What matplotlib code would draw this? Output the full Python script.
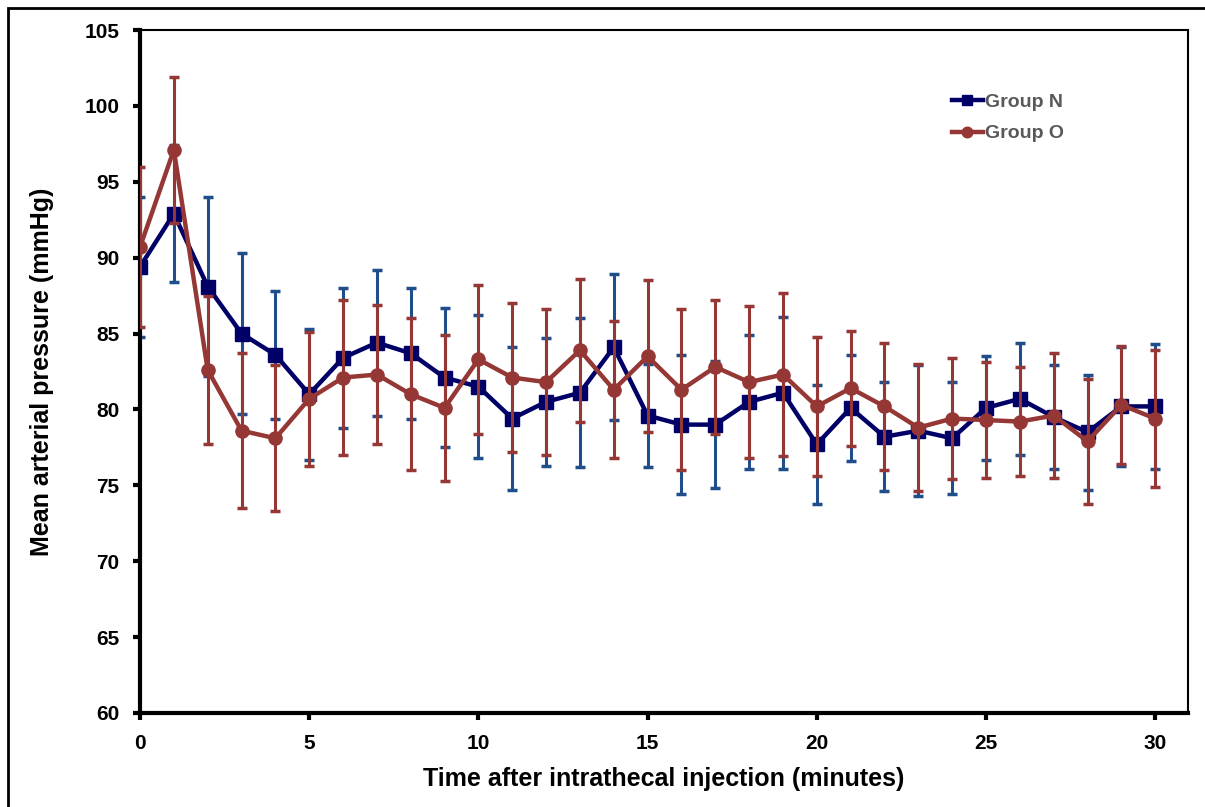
import matplotlib
matplotlib.use("Agg")
import matplotlib.pyplot as plt
from matplotlib.patches import Rectangle

plt.rcParams["font.family"] = ["Liberation Sans", "DejaVu Sans"]
plt.rcParams["font.weight"] = "bold"

# Time points (minutes)
minutes = list(range(31))

# Group N mean arterial pressure and error (mmHg)
group_n = [89.4, 92.9, 88.1, 85.0, 83.6, 81.0, 83.4, 84.4, 83.7, 82.1,
           81.5, 79.4, 80.5, 81.1, 84.1, 79.6, 79.0, 79.0, 80.5, 81.1,
           77.7, 80.1, 78.2, 78.6, 78.1, 80.1, 80.7, 79.5, 78.5, 80.2, 80.2]
group_n_err = [4.6, 4.5, 5.9, 5.3, 4.2, 4.3, 4.6, 4.8, 4.3, 4.6,
               4.7, 4.7, 4.2, 4.9, 4.8, 3.4, 4.6, 4.2, 4.4, 5.0,
               3.9, 3.5, 3.6, 4.3, 3.7, 3.4, 3.7, 3.4, 3.8, 3.9, 4.1]

# Group O mean arterial pressure and error (mmHg)
group_o = [90.7, 97.1, 82.6, 78.6, 78.1, 80.7, 82.1, 82.3, 81.0, 80.1,
           83.3, 82.1, 81.8, 83.9, 81.3, 83.5, 81.3, 82.8, 81.8, 82.3,
           80.2, 81.4, 80.2, 78.8, 79.4, 79.3, 79.2, 79.6, 77.9, 80.3, 79.4]
group_o_err = [5.3, 4.8, 4.9, 5.1, 4.8, 4.4, 5.1, 4.6, 5.0, 4.8,
               4.9, 4.9, 4.8, 4.7, 4.5, 5.0, 5.3, 4.4, 5.0, 5.4,
               4.6, 3.8, 4.2, 4.2, 4.0, 3.8, 3.6, 4.1, 4.1, 3.9, 4.5]

navy = "#000066"
blue_err = "#1f4e8a"
red = "#953735"

fig = plt.figure(figsize=(12.05, 8.07), dpi=100)
ax = fig.add_axes([0.1162, 0.1165, 0.8697, 0.8463])

# Group N
ax.errorbar(minutes, group_n, yerr=group_n_err, fmt="none", ecolor=blue_err,
            elinewidth=2.2, capsize=3.5, capthick=2.5, zorder=2)
ax.plot(minutes, group_n, color=navy, linewidth=3.2, marker="s",
        markersize=9.5, label="Group N", zorder=3)

# Group O
ax.errorbar(minutes, group_o, yerr=group_o_err, fmt="none", ecolor=red,
            elinewidth=2.2, capsize=3.5, capthick=2.5, zorder=4)
ax.plot(minutes, group_o, color=red, linewidth=3.2, marker="o",
        markersize=9.5, label="Group O", zorder=5)

ax.set_xlim(0, 30.97)
ax.set_ylim(60, 105)
ax.set_xticks(range(0, 31, 5))
ax.set_yticks(range(60, 106, 5))
ax.tick_params(axis="both", direction="out", length=5, width=3,
               labelsize=15, pad=10, colors="black")
for lab in ax.get_xticklabels() + ax.get_yticklabels():
    lab.set_fontweight("bold")

ax.spines["left"].set_linewidth(3)
ax.spines["bottom"].set_linewidth(3)
ax.spines["top"].set_linewidth(1.5)
ax.spines["right"].set_linewidth(1.5)

ax.set_xlabel("Time after intrathecal injection (minutes)", fontsize=18,
              fontweight="bold", labelpad=10)
ax.set_ylabel("Mean arterial pressure (mmHg)", fontsize=18,
              fontweight="bold", labelpad=22)

leg = ax.legend(loc="upper left", bbox_to_anchor=(0.767, 0.919), frameon=False,
                fontsize=14, handlelength=1.6, handletextpad=0.1,
                labelspacing=0.72, borderaxespad=0, markerscale=0.8)
for t in leg.get_texts():
    t.set_color("#595959")
    t.set_fontweight("bold")

# outer frame around the figure
fig.patches.append(Rectangle((8 / 1205, -0.1), 1.2, 1.1 - 8 / 807,
                             transform=fig.transFigure, fill=False,
                             edgecolor="black", linewidth=2, zorder=0))

fig.savefig("out.png", dpi=100)
